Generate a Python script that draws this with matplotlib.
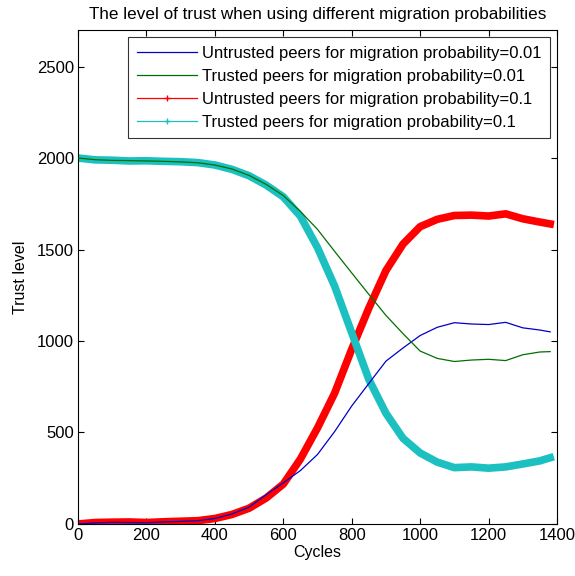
import matplotlib
matplotlib.use('Agg')
from matplotlib import pyplot as plt
from matplotlib.lines import Line2D

plt.rcParams['font.family'] = ['Liberation Sans', 'DejaVu Sans']

cycles = [0, 50, 100, 150, 200, 250, 300, 350, 400, 450, 500, 550, 600, 650, 700,
          750, 800, 850, 900, 950, 1000, 1050, 1100, 1150, 1200, 1250, 1300, 1350, 1380]

untrusted_001 = [0, 6, 9, 8, 7, 11, 14, 18, 30, 55, 92, 160, 225, 292, 380,
                 505, 645, 768, 890, 962, 1030, 1075, 1100, 1093, 1090, 1102, 1072, 1060, 1050]
trusted_001 = [2000, 1991, 1987, 1986, 1984, 1982, 1979, 1974, 1962, 1940, 1905, 1856, 1795, 1708, 1610,
               1490, 1372, 1255, 1140, 1040, 945, 905, 888, 896, 900, 893, 925, 940, 942]
untrusted_01 = [0, 8, 10, 11, 8, 12, 15, 18, 30, 52, 86, 142, 218, 355, 525,
                715, 955, 1180, 1385, 1530, 1625, 1665, 1686, 1688, 1683, 1695, 1668, 1650, 1640]
trusted_01 = [2000, 1990, 1988, 1984, 1985, 1982, 1980, 1975, 1962, 1938, 1903, 1852, 1788, 1682, 1510,
              1300, 1045, 790, 605, 468, 388, 338, 308, 312, 305, 312, 328, 345, 362]

labels = ['Untrusted peers for migration probability=0.01',
          'Trusted peers for migration probability=0.01',
          'Untrusted peers for migration probability=0.1',
          'Trusted peers for migration probability=0.1']

blue, green, red, cyan = '#0000c8', '#007000', '#ff0000', '#1cc0c0'

fig = plt.figure(figsize=(5.75, 5.76), dpi=100)
ax = fig.add_axes([0.1357, 0.0903, 0.833, 0.8577])

ax.plot(cycles, untrusted_001, color=blue, lw=0.9, zorder=3)
ax.plot(cycles, trusted_001, color=green, lw=0.9, zorder=3)
ax.plot(cycles, untrusted_01, color=red, lw=5.5, zorder=2)
ax.plot(cycles, trusted_01, color=cyan, lw=5.5, zorder=2)

ax.set_xlim(0, 1400)
ax.set_ylim(0, 2700)
ax.set_xticks(range(0, 1401, 200))
ax.set_yticks(range(0, 2501, 500))
ax.tick_params(direction='in', top=True, right=True, labelsize=12, length=4, width=0.8, pad=3)
for s in ax.spines.values():
    s.set_linewidth(0.8)

ax.set_xlabel('Cycles', fontsize=11.5, labelpad=1)
ax.set_ylabel('Trust level', fontsize=11.5, labelpad=6)
ax.set_title('The level of trust when using different migration probabilities', fontsize=12.3, pad=8)

# legend handles like matlab's line + marker
handles = [Line2D([], [], color=blue, lw=0.9),
           Line2D([], [], color=green, lw=0.9),
           Line2D([], [], color=red, lw=0.9, marker='+', markersize=5, markevery=[1]),
           Line2D([], [], color=cyan, lw=0.9, marker='+', markersize=5, markevery=[1])]
leg = ax.legend(handles, labels, loc='upper right', fontsize=12, handlelength=3.6,
                handletextpad=0.3, labelspacing=0.48, borderaxespad=0.45, fancybox=False,
                borderpad=0.5)
leg.get_frame().set_edgecolor('black')
leg.get_frame().set_linewidth(0.8)

fig.savefig('out.png', dpi=100)
